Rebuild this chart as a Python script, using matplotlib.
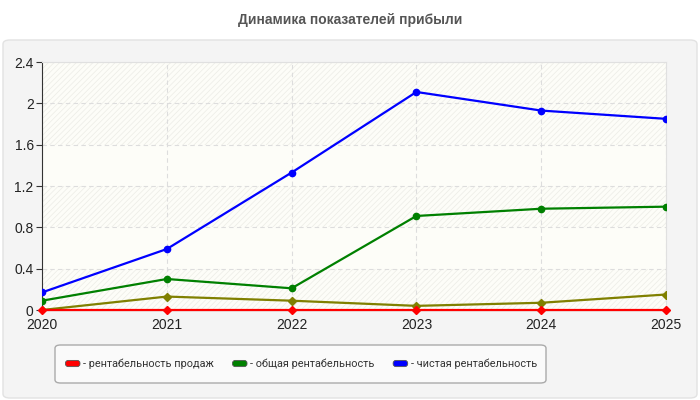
import matplotlib
matplotlib.use("Agg")
import matplotlib.pyplot as plt
from matplotlib.patches import FancyBboxPatch, Patch
from matplotlib.legend_handler import HandlerPatch

years = [2020, 2021, 2022, 2023, 2024, 2025]
sales_margin = [0, 0, 0, 0, 0, 0]
total_margin = [0.09, 0.30, 0.21, 0.91, 0.98, 1.00]
net_margin = [0.17, 0.59, 1.33, 2.11, 1.93, 1.85]
other_margin = [0.0, 0.13, 0.09, 0.04, 0.07, 0.15]
yticks = [0, 0.4, 0.8, 1.2, 1.6, 2, 2.4]
ytick_labels = ["0", "0.4", "0.8", "1.2", "1.6", "2", "2.4"]
labels = ["- рентабельность продаж", "- общая рентабельность", "- чистая рентабельность"]

plt.rcParams["font.family"] = ["Liberation Sans", "DejaVu Sans"]
plt.rcParams["hatch.linewidth"] = 0.5

fig = plt.figure(figsize=(7, 4), dpi=100)
fig.patch.set_facecolor("white")

# outer grey panel
panel = FancyBboxPatch((3 / 700, 2 / 400), 694 / 700, 358 / 400,
                       boxstyle="round,pad=0,rounding_size=0.01",
                       transform=fig.transFigure, facecolor="#f4f4f4",
                       edgecolor="#e2e2e2", lw=1, zorder=-10)
fig.patches.append(panel)

# legend frame
legbox = FancyBboxPatch((55 / 700, 1 - 383 / 400), 491 / 700, 38 / 400,
                        boxstyle="round,pad=0,rounding_size=0.008",
                        transform=fig.transFigure, facecolor="#fafafa",
                        edgecolor="#aaaaaa", lw=1, zorder=-5)
fig.patches.append(legbox)

fig.text(0.5, 1 - 20 / 400, "Динамика показателей прибыли", ha="center", va="center",
         fontsize=10, fontweight="bold", color="#555555")

ax = fig.add_axes([42 / 700, 1 - 310 / 400, 624 / 700, 248 / 400])
ax.set_facecolor("#fdfdf8")
for lo, hi in [(0, 0.4), (0.8, 1.2), (1.6, 2.0), (2.0, 2.4)]:
    ax.axhspan(lo, hi, facecolor="none", edgecolor="#ecece6", hatch="//////", lw=0, zorder=0)

ax.grid(True, color="#dddddd", ls=(0, (4, 3)), lw=0.8)
ax.set_axisbelow(True)

ax.plot(years, other_margin, color="#808000", lw=1.6, marker="D", ms=4.5, zorder=3)
ax.plot(years, total_margin, color="#008000", lw=1.6, marker="o", ms=4.5, zorder=4)
ax.plot(years, net_margin, color="#0000ff", lw=1.6, marker="o", ms=4.5, zorder=5)
ax.plot(years, sales_margin, color="#ff0000", lw=1.6, marker="D", ms=4.5, zorder=6,
        clip_on=False)

ax.set_xlim(2020, 2025)
ax.set_ylim(0, 2.4)
ax.set_xticks(years)
ax.set_xticklabels([str(y) for y in years])
ax.set_yticks(yticks)
ax.set_yticklabels(ytick_labels)
ax.tick_params(axis="y", length=4, color="#333333", labelsize=10, labelcolor="#222222", pad=2)
ax.tick_params(axis="x", length=0, labelsize=10, labelcolor="#222222", pad=6)
for s in ["top", "right"]:
    ax.spines[s].set_color("#e0e0e0")
ax.spines["left"].set_color("#333333")
ax.spines["bottom"].set_color("#333333")


class RoundHandler(HandlerPatch):
    def create_artists(self, legend, orig_handle, xdescent, ydescent, width, height, fontsize, trans):
        p = FancyBboxPatch((-xdescent + 1, -ydescent + 1), width - 2, height - 2,
                           boxstyle="round,pad=0,rounding_size=2",
                           facecolor=orig_handle.get_facecolor(), edgecolor="#555555",
                           lw=0.6, transform=trans)
        return [p]


handles = [Patch(facecolor=c) for c in ["#ff0000", "#008000", "#0000ff"]]
leg = fig.legend(handles, labels, loc="center", bbox_to_anchor=(300.5 / 700, 1 - 364 / 400),
                 ncol=3, frameon=False, handlelength=1.6, handleheight=0.9,
                 handletextpad=0.15, columnspacing=1.6, borderpad=0,
                 prop={"family": ["Roboto", "DejaVu Sans"], "size": 7.8},
                 handler_map={Patch: RoundHandler()})
for t in leg.get_texts():
    t.set_color("#333333")

fig.savefig("out.png", dpi=100)
